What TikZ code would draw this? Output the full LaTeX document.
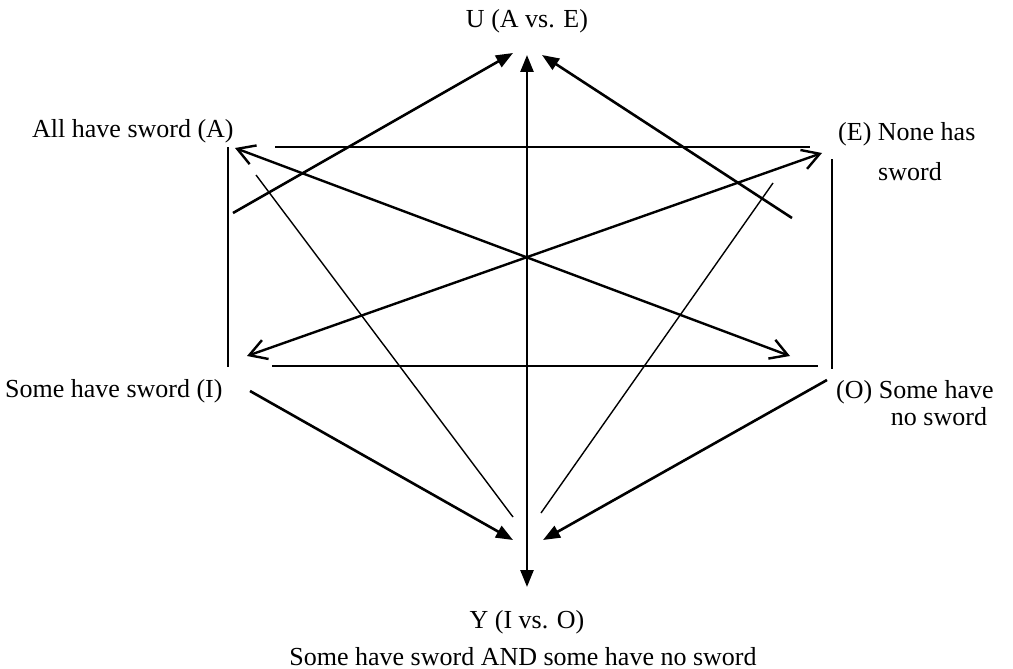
\documentclass[tikz,border=0pt]{standalone}
\usepackage{fontspec}
\setmainfont{Liberation Serif}
\usetikzlibrary{arrows.meta}
\tikzset{
  lbl/.style={inner sep=0pt, font=\fontsize{26}{30}\selectfont},
  fat/.style={line width=2.6pt, -{Triangle[length=17pt,width=13pt]}},
  fatboth/.style={line width=2.6pt, {Triangle[length=17pt,width=13pt]}-{Triangle[length=17pt,width=13pt]}},
  barbboth/.style={line width=2.4pt, {Straight Barb[length=17pt,width=20pt]}-{Straight Barb[length=17pt,width=20pt]}},
  thinline/.style={line width=1.4pt},
  midline/.style={line width=1.9pt}
}
\begin{document}
\begin{tikzpicture}[x=1pt,y=-1pt]
\useasboundingbox (0,0) rectangle (1013,669);

% labels
\node[lbl, anchor=base] (U) at (527,28) {U (A vs. E)};
\node[lbl, anchor=base west] (A) at (32,138) {All have sword (A)};
\node[lbl, anchor=base west] (E1) at (838,140) {(E) None has};
\node[lbl, anchor=base] (E2) at (910,180) {sword};
\node[lbl, anchor=base west] (I) at (5,397) {Some have sword (I)};
\node[lbl, anchor=base west] (O1) at (836,398) {(O) Some have};
\node[lbl, anchor=base] (O2) at (939,425) {no sword};
\node[lbl, anchor=base] (Y1) at (527,628) {Y (I vs. O)};
\node[lbl, anchor=base] (Y2) at (523,665) {Some have sword AND some have no sword};

% endpoints
\coordinate (utop) at (527,55);
\coordinate (ybot) at (527,587);
\coordinate (ul) at (513,53);
\coordinate (ur) at (542,55);
\coordinate (yl) at (513,540);
\coordinate (yr) at (543,540);
\coordinate (aU) at (233,213);
\coordinate (eU) at (792,218);
\coordinate (iY) at (250,391);
\coordinate (oY) at (827,380);
\coordinate (aTip) at (235,148);
\coordinate (oTip) at (790,356);
\coordinate (iTip) at (247,356);
\coordinate (eTip) at (822,153);
\coordinate (aThin) at (256,175);
\coordinate (yThinL) at (513,517);
\coordinate (eThin) at (773,183);
\coordinate (yThinR) at (541,513);
\coordinate (h1a) at (275,147);
\coordinate (h1b) at (810,147);
\coordinate (h2a) at (272,366);
\coordinate (h2b) at (818,366);
\coordinate (v1a) at (228,147);
\coordinate (v1b) at (228,367);
\coordinate (v2a) at (832,159);
\coordinate (v2b) at (832,369);

% connectors
\draw[fatboth] (ybot) -- (utop);
\draw[fat] (aU) -- (ul);
\draw[fat] (eU) -- (ur);
\draw[fat] (iY) -- (yl);
\draw[fat] (oY) -- (yr);
\draw[barbboth] (aTip) -- (oTip);
\draw[barbboth] (iTip) -- (eTip);
\draw[thinline] (aThin) -- (yThinL);
\draw[thinline] (eThin) -- (yThinR);
\draw[midline] (h1a) -- (h1b);
\draw[midline] (h2a) -- (h2b);
\draw[midline] (v1a) -- (v1b);
\draw[midline] (v2a) -- (v2b);
\end{tikzpicture}
\end{document}
